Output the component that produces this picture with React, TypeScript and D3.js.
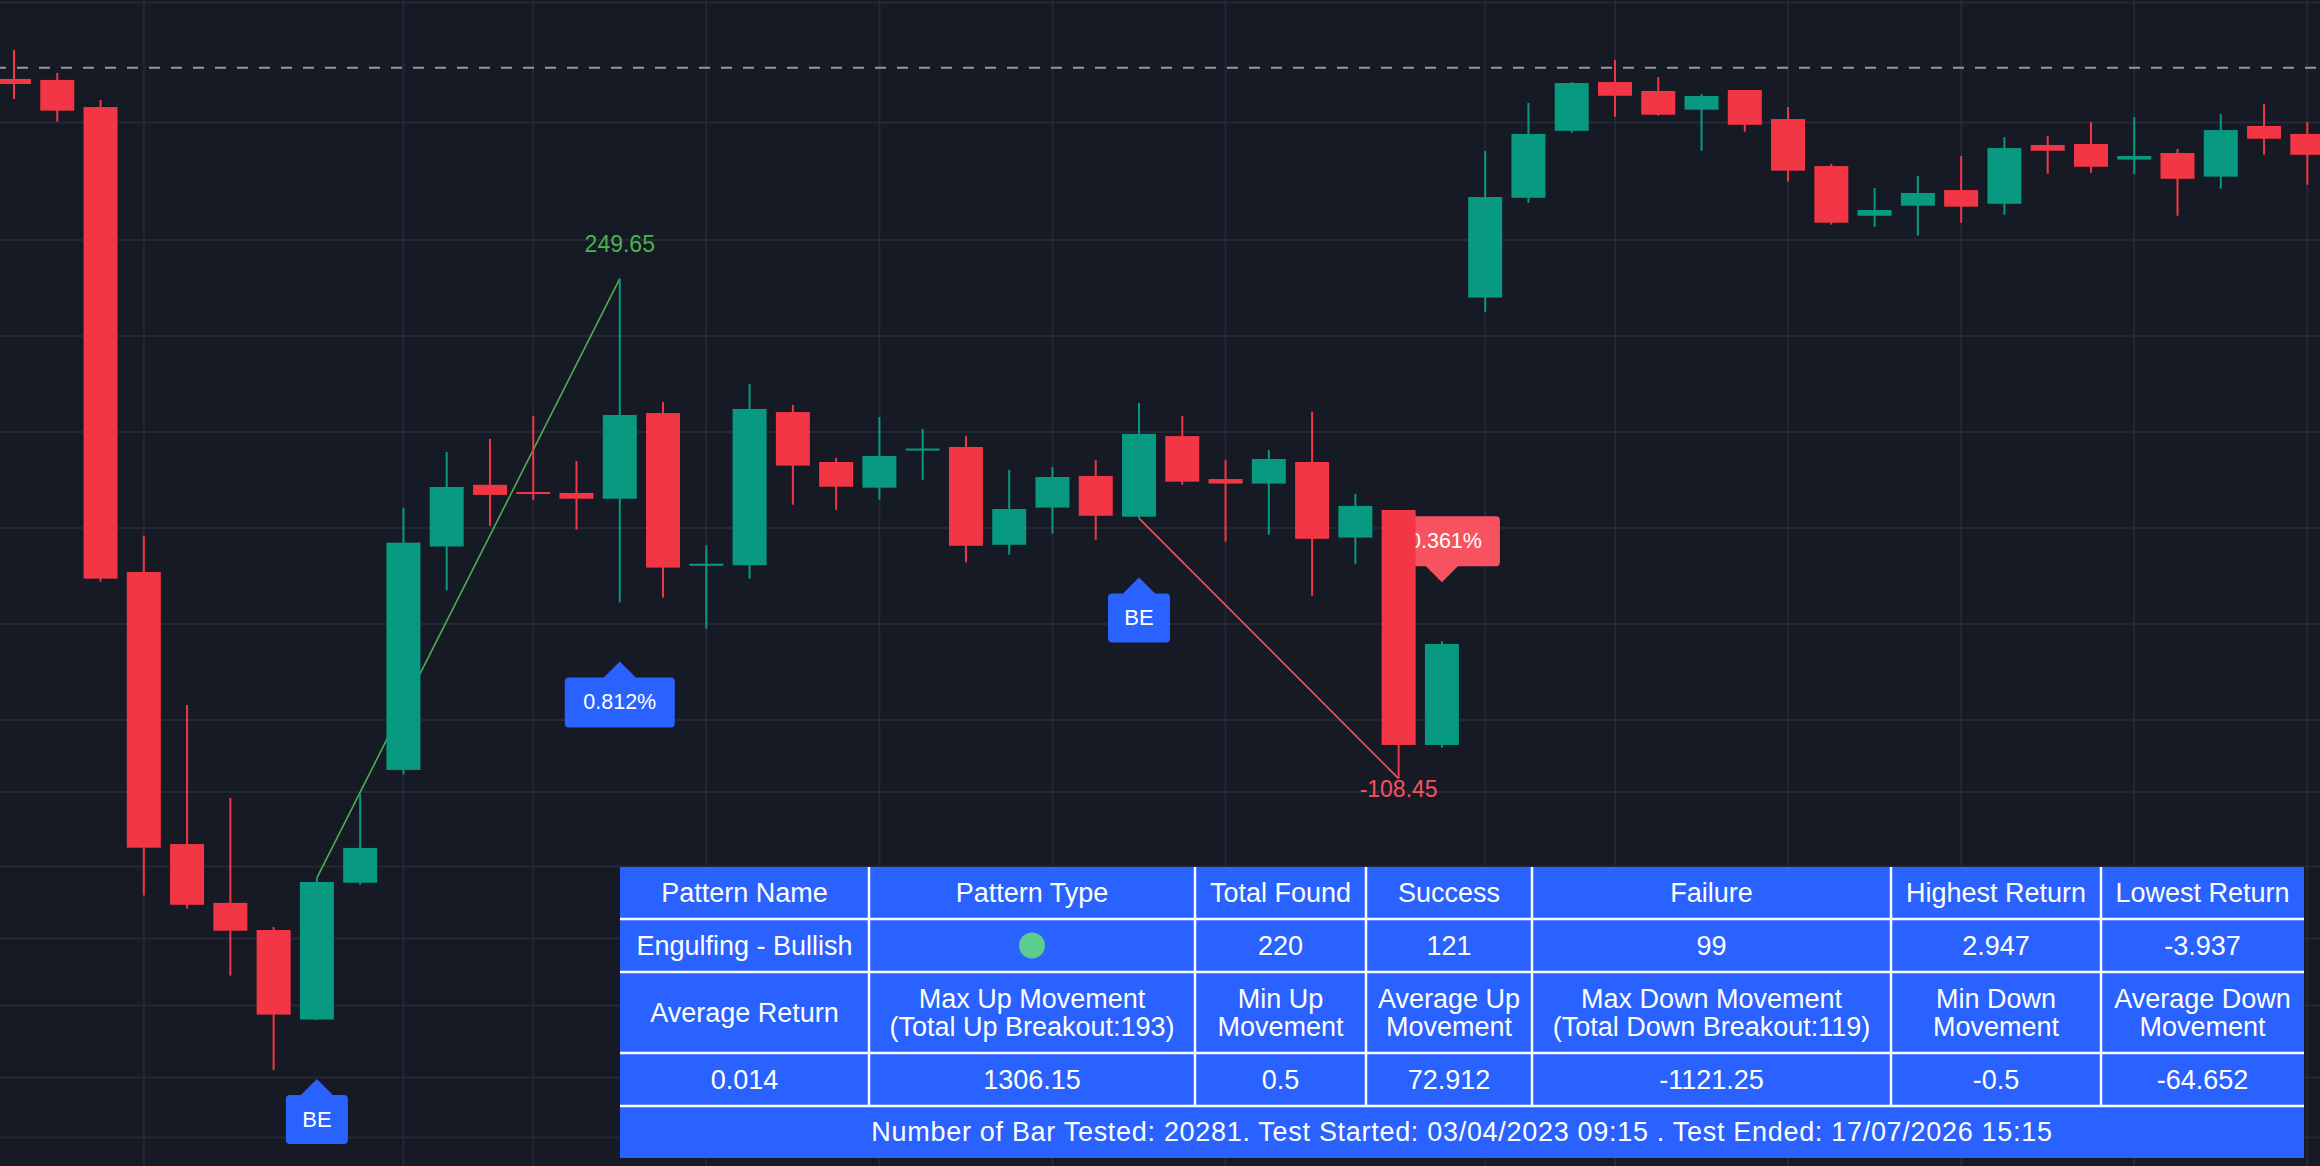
import React, { useEffect } from 'react';
import * as d3 from 'd3';

const W = 2320;
const H = 1166;

// ---- data ----
const opens = [31077.1, 31076.7, 31065.4, 30871.7, 30758.3, 30733.8, 30722.5, 30685.2, 30742.2, 30789.2,
  30882.3, 30908.0, 30905.0, 30904.6, 30902.2, 30937.9, 30874.9, 30874.5, 30938.3, 30917.5,
  30906.8, 30922.7, 30923.75, 30883.0, 30898.5, 30911.7, 30894.7, 30928.3, 30910.4, 30908.5,
  30917.5, 30886.0, 30897.5, 30799.6, 30986.0, 31027.6, 31055.5, 31075.8, 31072.1, 31064.3,
  31072.5, 31060.4, 31040.8, 31020.1, 31024.3, 31030.8, 31025.1, 31049.6, 31050.0, 31043.5,
  31046.25, 31036.4, 31057.5, 31054.2];
const highs = [31089.2, 31079.6, 31068.3, 30886.75, 30816.25, 30777.5, 30723.75, 30744.25, 30779.2, 30898.3,
  30921.7, 30927.1, 30936.7, 30917.9, 30993.9, 30942.5, 30882.8, 30950.0, 30941.25, 30919.2,
  30936.25, 30931.25, 30928.3, 30914.2, 30915.4, 30918.3, 30942.1, 30936.7, 30918.3, 30922.5,
  30938.5, 30904.2, 30897.5, 30842.8, 31047.1, 31067.1, 31075.8, 31085.0, 31077.9, 31070.8,
  31072.5, 31065.4, 31041.7, 31031.7, 31036.7, 31045.0, 31052.9, 31053.3, 31059.2, 31061.25,
  31047.9, 31062.5, 31066.7, 31059.2];
const lows = [31068.75, 31059.3, 30867.6, 30736.9, 30731.4, 30703.5, 30664.2, 30685.0, 30741.4, 30787.3,
  30864.0, 30890.9, 30901.75, 30889.3, 30859.0, 30861.0, 30848.1, 30868.9, 30899.7, 30897.6,
  30901.8, 30910.1, 30875.7, 30878.9, 30887.6, 30885.1, 30894.0, 30908.0, 30884.3, 30887.2,
  30861.8, 30875.1, 30785.55, 30798.5, 30980.1, 31025.5, 31054.7, 31061.4, 31061.8, 31047.2,
  31055.1, 31034.3, 31016.4, 31015.5, 31011.8, 31017.2, 31020.5, 31037.6, 31038.0, 31037.6,
  31020.1, 31031.4, 31045.5, 31033.0];
const closes = [31075.0, 31063.9, 30868.9, 30756.8, 30733.0, 30722.2, 30687.25, 30742.5, 30756.7, 30883.9,
  30907.1, 30903.8, 30904.3, 30902.2, 30937.1, 30873.5, 30875.1, 30939.6, 30916.0, 30907.2,
  30920.0, 30923.1, 30882.6, 30897.9, 30911.25, 30895.1, 30929.2, 30909.3, 30908.5, 30918.75,
  30885.5, 30899.2, 30799.6, 30841.7, 31027.9, 31054.2, 31075.4, 31070.1, 31062.2, 31070.0,
  31058.0, 31038.9, 31017.2, 31022.5, 31029.6, 31023.9, 31048.3, 31047.2, 31040.5, 31045.0,
  31035.5, 31055.8, 31052.2, 31045.5];

const priceGrid = [31109, 31059, 31010, 30970, 30930, 30890, 30850, 30810, 30780, 30749, 30719, 30691, 30661, 30636];
const timeGrid = [3, 9, 12, 16, 20, 24, 28, 34, 37, 41, 45, 49, 53];
const refLinePrice = 31081.8;

const patternBars = [7, 26];
const patternText = 'BE';
const upMoveBars = [7, 14];
const upMoveValue = '249.65';
const upMovePct = '0.812%';
const downMoveBars = [26, 32];
const downMoveValue = '-108.45';
const downMovePct = '-0.361%';

const headerRow1 = ['Pattern Name', 'Pattern Type', 'Total Found', 'Success', 'Failure', 'Highest Return', 'Lowest Return'];
const valueRow1 = ['Engulfing - Bullish', '', '220', '121', '99', '2.947', '-3.937'];
const headerRow2 = [
  ['Average Return'],
  ['Max Up Movement', '(Total Up Breakout:193)'],
  ['Min Up', 'Movement'],
  ['Average Up', 'Movement'],
  ['Max Down Movement', '(Total Down Breakout:119)'],
  ['Min Down', 'Movement'],
  ['Average Down', 'Movement'],
];
const valueRow2 = ['0.014', '1306.15', '0.5', '72.912', '-1121.25', '-0.5', '-64.652'];
const footerText = 'Number of Bar Tested: 20281. Test Started: 03/04/2023 09:15 . Test Ended: 17/07/2026 15:15';

// ---- style ----
const BG = '#161a25';
const GRID = '#242834';
const UP = '#089981';
const DOWN = '#f23645';
const BLUE = '#2962ff';
const LABEL_RED = '#f7525f';
const FONT = '"Liberation Sans", Arial, sans-serif';

const PX_PER_PT = 2.4;
const yTop = 31110;

function callout(cx: number, apexY: number, w: number, h: number, dir: 'up' | 'down') {
  const tri = 16;
  const half = 16;
  const r = 4;
  const l = cx - w / 2;
  const rr = cx + w / 2;
  if (dir === 'up') {
    const t = apexY + tri;
    const b = t + h;
    return `M${l + r},${t} L${cx - half},${t} L${cx},${apexY} L${cx + half},${t} L${rr - r},${t} Q${rr},${t} ${rr},${t + r} L${rr},${b - r} Q${rr},${b} ${rr - r},${b} L${l + r},${b} Q${l},${b} ${l},${b - r} L${l},${t + r} Q${l},${t} ${l + r},${t} Z`;
  }
  const b = apexY - tri;
  const t = b - h;
  return `M${l + r},${t} L${rr - r},${t} Q${rr},${t} ${rr},${t + r} L${rr},${b - r} Q${rr},${b} ${rr - r},${b} L${cx + half},${b} L${cx},${apexY} L${cx - half},${b} L${l + r},${b} Q${l},${b} ${l},${b - r} L${l},${t + r} Q${l},${t} ${l + r},${t} Z`;
}

export default function App() {
  useEffect(() => {
    document.body.style.margin = '0';
    document.body.style.background = BG;
  }, []);

  const x = d3.scaleLinear().domain([0, 53]).range([14, 14 + 43.27 * 53]);
  const y = d3.scaleLinear().domain([yTop - H / PX_PER_PT, yTop]).range([H, 0]);
  const bodyW = 34;

  const colEdges = [620, 869, 1195, 1366, 1532, 1891, 2101, 2304];
  const rowEdges = [867, 919, 972, 1053, 1106, 1158];
  const cellCx = (i: number) => (colEdges[i] + colEdges[i + 1]) / 2;
  const rowCy = (j: number) => (rowEdges[j] + rowEdges[j + 1]) / 2;
  const tFont = 27;

  const labelOffset = 59;

  return (
    <svg width={W} height={H} style={{ position: 'absolute', left: 0, top: 0, display: 'block' }} fontFamily={FONT}>
      <rect x={0} y={0} width={W} height={H} fill={BG} />
      {priceGrid.map((p, i) => (
        <line key={'h' + i} x1={0} x2={W} y1={y(p)} y2={y(p)} stroke={GRID} strokeWidth={2} />
      ))}
      {timeGrid.map((t, i) => (
        <line key={'v' + i} x1={x(t)} x2={x(t)} y1={0} y2={H} stroke={GRID} strokeWidth={2} />
      ))}
      <line x1={0} x2={W} y1={y(refLinePrice)} y2={y(refLinePrice)} stroke="#9598a1" strokeWidth={2}
        strokeDasharray="11 11" strokeDashoffset={5} />

      {/* movement lines */}
      <line x1={x(upMoveBars[0])} y1={y(highs[upMoveBars[0]])} x2={x(upMoveBars[1])} y2={y(highs[upMoveBars[1]])}
        stroke="#4caf50" strokeWidth={1.6} />
      <line x1={x(downMoveBars[0])} y1={y(lows[downMoveBars[0]])} x2={x(downMoveBars[1])} y2={y(lows[downMoveBars[1]])}
        stroke={LABEL_RED} strokeWidth={1.6} />

      {/* callouts */}
      {patternBars.map((b, i) => {
        const apex = y(lows[b]) + labelOffset;
        return (
          <g key={'be' + i}>
            <path d={callout(x(b), apex, 62, 49, 'up')} fill={BLUE} />
            <text x={x(b)} y={apex + 16 + 24.5} fill="#fff" fontSize={22} textAnchor="middle" dominantBaseline="central">{patternText}</text>
          </g>
        );
      })}
      {(() => {
        const b = upMoveBars[1];
        const apex = y(lows[b]) + labelOffset;
        return (
          <g>
            <path d={callout(x(b), apex, 110, 50, 'up')} fill={BLUE} />
            <text x={x(b)} y={apex + 16 + 25} fill="#fff" fontSize={21.5} textAnchor="middle" dominantBaseline="central">{upMovePct}</text>
          </g>
        );
      })()}
      {(() => {
        const b = downMoveBars[1] + 1;
        const apex = y(highs[b]) - labelOffset;
        return (
          <g>
            <path d={callout(x(b), apex, 116, 50, 'down')} fill={LABEL_RED} />
            <text x={x(b)} y={apex - 16 - 25} fill="#fff" fontSize={21.5} textAnchor="middle" dominantBaseline="central">{downMovePct}</text>
          </g>
        );
      })()}

      {/* candles */}
      {opens.map((o, i) => {
        const c = closes[i];
        const up = c >= o;
        const col = up ? UP : DOWN;
        const yTopB = y(Math.max(o, c));
        const yBotB = y(Math.min(o, c));
        const hB = Math.max(2, yBotB - yTopB);
        return (
          <g key={'c' + i}>
            <rect x={x(i) - 1} y={y(highs[i])} width={2} height={y(lows[i]) - y(highs[i])} fill={col} />
            <rect x={x(i) - bodyW / 2} y={yTopB} width={bodyW} height={hB} fill={col} />
          </g>
        );
      })}

      {/* movement values */}
      <text x={x(upMoveBars[1])} y={y(highs[upMoveBars[1]]) - 27} fill="#4caf50" fontSize={23} textAnchor="middle">{upMoveValue}</text>
      <text x={x(downMoveBars[1])} y={y(lows[downMoveBars[1]]) + 18} fill={LABEL_RED} fontSize={23} textAnchor="middle">{downMoveValue}</text>

      {/* table */}
      <g>
        <rect x={colEdges[0]} y={rowEdges[0]} width={colEdges[7] - colEdges[0]} height={rowEdges[5] - rowEdges[0]} fill={BLUE} />
        {rowEdges.slice(1, 5).map((r, i) => (
          <line key={'tr' + i} x1={colEdges[0]} x2={colEdges[7]} y1={r} y2={r} stroke="#fff" strokeWidth={2.5} />
        ))}
        {colEdges.slice(1, 7).map((c, i) => (
          <line key={'tc' + i} x1={c} x2={c} y1={rowEdges[0]} y2={rowEdges[4]} stroke="#fff" strokeWidth={2.5} />
        ))}
        {headerRow1.map((t, i) => (
          <text key={'h1' + i} x={cellCx(i)} y={rowCy(0)} fill="#fff" fontSize={tFont} textAnchor="middle" dominantBaseline="central">{t}</text>
        ))}
        {valueRow1.map((t, i) => (
          <text key={'v1' + i} x={cellCx(i)} y={rowCy(1)} fill="#fff" fontSize={tFont} textAnchor="middle" dominantBaseline="central">{t}</text>
        ))}
        <circle cx={cellCx(1)} cy={rowCy(1)} r={13} fill="#5ccd8f" />
        {headerRow2.map((lines, i) => (
          <text key={'h2' + i} x={cellCx(i)} y={rowCy(2)} fill="#fff" fontSize={tFont} textAnchor="middle" dominantBaseline="central">
            {lines.map((ln, k) => (
              <tspan key={k} x={cellCx(i)} dy={k === 0 ? (lines.length === 1 ? 0 : -14) : 28}>{ln}</tspan>
            ))}
          </text>
        ))}
        {valueRow2.map((t, i) => (
          <text key={'v2' + i} x={cellCx(i)} y={rowCy(3)} fill="#fff" fontSize={tFont} textAnchor="middle" dominantBaseline="central">{t}</text>
        ))}
        <text x={(colEdges[0] + colEdges[7]) / 2} y={rowCy(4)} fill="#fff" fontSize={tFont} letterSpacing={0.7} textAnchor="middle" dominantBaseline="central">{footerText}</text>
      </g>
    </svg>
  );
}
